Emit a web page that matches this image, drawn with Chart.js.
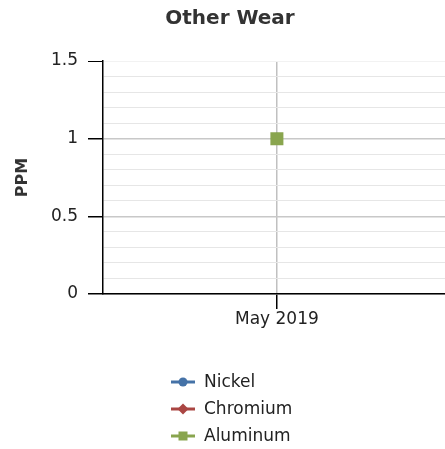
<!DOCTYPE html>
<html>
<head>
<meta charset="utf-8">
<script src="https://cdn.jsdelivr.net/npm/chart.js@4.4.1/dist/chart.umd.min.js"></script>
<style>
html,body{margin:0;padding:0;background:#fff;overflow:hidden;}
#wrap{width:445px;height:449px;position:relative;overflow:hidden;}
#c{position:absolute;left:0;top:0;}
</style>
</head>
<body>
<div id="wrap"><canvas id="c" width="460" height="449"></canvas></div>
<script>
const categories = ['May 2019'];
const seriesNames = ['Nickel', 'Chromium', 'Aluminum'];
const nickelValues = [1];
const chromiumValues = [1];
const aluminumValues = [1];
const yTickLabels = ['0', '0.5', '1', '1.5'];

const colors = ['#4572A7', '#AA4643', '#89A54E'];
const styles = ['circle', 'rectRot', 'rect'];
const radii = [6, 6, 9.2];
const drawOrder = [2, 1, 0];
const values = [nickelValues, chromiumValues, aluminumValues];

const FONT = "'DejaVu Sans', Verdana, sans-serif";

function isMajor(v) { return Math.abs(v * 2 - Math.round(v * 2)) < 1e-6; }

const legendPlugin = {
  id: 'vlegend',
  afterDraw(chart) {
    const ctx = chart.ctx;
    const x0 = 171, x1 = 195, cx = 183, tx = 204;
    const ys = [382, 409, 436];
    chart.data.datasets.forEach((ds, i) => {
      const y = ys[i];
      ctx.save();
      ctx.strokeStyle = ds.borderColor;
      ctx.lineWidth = 3;
      ctx.beginPath();
      ctx.moveTo(x0, y); ctx.lineTo(x1, y); ctx.stroke();
      ctx.fillStyle = ds.borderColor;
      ctx.beginPath();
      if (ds.pointStyle === 'circle') {
        ctx.arc(cx, y, 4.5, 0, Math.PI * 2);
      } else if (ds.pointStyle === 'rectRot') {
        ctx.moveTo(cx, y - 5.5); ctx.lineTo(cx + 5.5, y); ctx.lineTo(cx, y + 5.5); ctx.lineTo(cx - 5.5, y); ctx.closePath();
      } else {
        ctx.rect(cx - 4.5, y - 4.5, 9, 9);
      }
      ctx.fill();
      ctx.fillStyle = '#222';
      ctx.font = '17px ' + FONT;
      ctx.textBaseline = 'middle';
      ctx.textAlign = 'left';
      ctx.fillText(ds.label, tx, y + 1);
      ctx.restore();
    });
  }
};

new Chart(document.getElementById('c'), {
  type: 'line',
  data: {
    labels: categories,
    datasets: seriesNames.map((n, i) => ({
      label: n,
      data: values[i],
      order: drawOrder[i],
      borderColor: colors[i],
      backgroundColor: colors[i],
      borderWidth: 3,
      pointStyle: styles[i],
      pointRadius: radii[i],
      pointHoverRadius: radii[i],
      pointBorderWidth: 0,
      pointBackgroundColor: colors[i]
    }))
  },
  options: {
    responsive: false,
    animation: false,
    events: [],
    layout: { padding: { left: 0, right: 0, top: 0, bottom: 115 } },
    plugins: {
      legend: { display: false },
      tooltip: { enabled: false },
      title: {
        display: true,
        text: 'Other Wear',
        color: '#333',
        font: { family: FONT, size: 20, weight: 'bold' },
        padding: { top: 7, bottom: 30 }
      }
    },
    scales: {
      x: {
        offset: true,
        border: { display: true, color: '#000', width: 1.5 },
        grid: { color: '#C0C0C0', lineWidth: 1.5, tickColor: '#000', tickLength: 15, drawOnChartArea: true },
        ticks: { color: '#222', font: { family: FONT, size: 17 }, padding: 0, maxRotation: 0 },
        afterFit(s) { s.height = 40; }
      },
      y: {
        min: 0, max: 1.5,
        border: { display: true, color: '#000', width: 1.5 },
        title: { display: true, text: 'PPM', color: '#333', font: { family: FONT, size: 16, weight: 'bold' }, padding: { top: 13, bottom: 0 } },
        grid: {
          color: (c) => c.tick.value > 1.45 ? '#F2F2F2' : (isMajor(c.tick.value) ? '#C8C8C8' : '#E6E6E6'),
          lineWidth: (c) => (isMajor(c.tick.value) && c.tick.value < 1.45) ? 1.5 : 1,
          tickColor: (c) => isMajor(c.tick.value) ? '#000' : 'rgba(0,0,0,0)',
          tickLength: 15
        },
        ticks: {
          stepSize: 0.1,
          autoSkip: false,
          color: '#222',
          padding: 10,
          font: { family: FONT, size: 17 },
          callback: (v) => {
            if (!isMajor(v)) return '';
            const idx = Math.round(v * 2);
            return yTickLabels[idx] !== undefined ? yTickLabels[idx] : '';
          }
        },
        afterFit(s) { s.width = 103; }
      }
    }
  },
  plugins: [legendPlugin]
});
</script>
</body>
</html>
